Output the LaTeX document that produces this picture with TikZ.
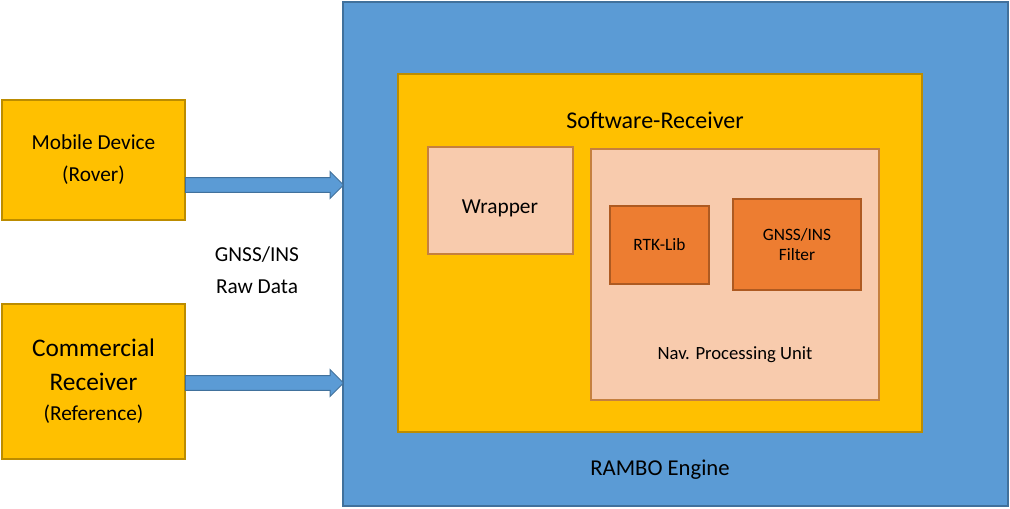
\documentclass[tikz,border=0pt]{standalone}
\usepackage{fontspec}
\setmainfont{Carlito}
\usetikzlibrary{shapes.arrows,positioning}
\definecolor{engineblue}{HTML}{5B9BD5}
\definecolor{engineedge}{HTML}{41719C}
\definecolor{gold}{HTML}{FFC000}
\definecolor{goldedge}{HTML}{BC8C00}
\definecolor{peach}{HTML}{F8CBAD}
\definecolor{peachedge}{HTML}{C5803F}
\definecolor{rust}{HTML}{ED7D31}
\definecolor{rustedge}{HTML}{AE5A21}
\tikzset{
  box/.style={draw,line width=0.9pt,inner sep=0pt},
  flowarrow/.style={single arrow,draw=engineedge,fill=engineblue,line width=0.7pt,
    inner xsep=0pt,inner ysep=5.2pt,text height=0pt,text depth=0pt,
    single arrow head extend=4.5pt,
    single arrow head indent=0pt,minimum height=158pt*0.75,anchor=tail}
}
\begin{document}
\begin{tikzpicture}[x=0.75pt,y=-0.75pt]
  \useasboundingbox (0,0) rectangle (1010,508);
  % engine
  \draw[box,draw=engineedge,fill=engineblue] (343,2) rectangle (1008,506);
  \node[font=\fontsize{17}{20}\selectfont] (rambo) at (660,470) {RAMBO Engine};
  % software receiver
  \draw[box,draw=goldedge,fill=gold] (398,74) rectangle (922,432);
  \node[font=\fontsize{18}{21}\selectfont] (swr) at (655,120) {Software-Receiver};
  \draw[box,draw=peachedge,fill=peach] (428,147) rectangle (573,254);
  \node[font=\fontsize{16}{19}\selectfont] (wrap) at (500,208) {Wrapper};
  \draw[box,draw=peachedge,fill=peach] (591,149) rectangle (879,400);
  \node[font=\fontsize{14}{17}\selectfont] (npu) at (735,355) {Nav. Processing Unit};
  \draw[box,draw=rustedge,fill=rust] (610,206) rectangle (709,284);
  \node[font=\fontsize{13}{16}\selectfont] (rtk) at (659.5,245) {RTK-Lib};
  \draw[box,draw=rustedge,fill=rust] (733,199) rectangle (861,290);
  \node[align=center,font=\fontsize{13}{15}\selectfont] (filt) at (797,244.5) {GNSS/INS\\Filter};
  % inputs
  \draw[box,draw=goldedge,fill=gold] (2,100) rectangle (185,220);
  \node[align=center,font=\fontsize{16}{24}\selectfont] (rover) at (93.5,160) {Mobile Device\\(Rover)};
  \draw[box,draw=goldedge,fill=gold] (2,304) rectangle (185,459);
  \node[align=center,font=\fontsize{19}{26}\selectfont] (ref) at (93.5,381)
    {Commercial\\Receiver\\[-4pt]{\fontsize{16}{20}\selectfont(Reference)}};
  \node[align=center,font=\fontsize{16}{24}\selectfont] (raw) at (257,270) {GNSS/INS\\Raw Data};
  % arrows
  \coordinate (a1) at (185,185);
  \coordinate (a2) at (185,383);
  \node[flowarrow] (arr1) at (a1) {};
  \node[flowarrow] (arr2) at (a2) {};
\end{tikzpicture}
\end{document}
